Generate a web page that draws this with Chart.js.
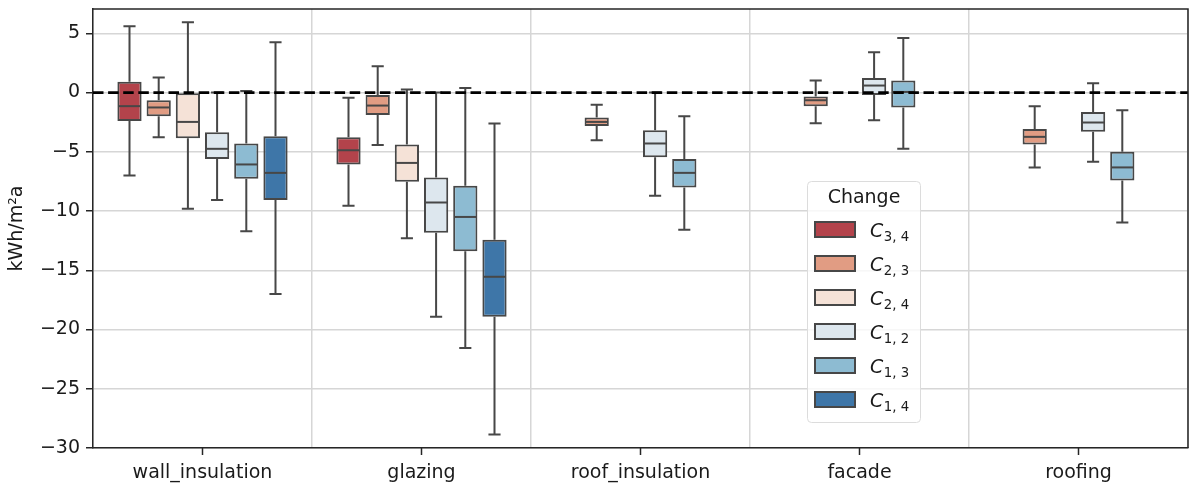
<!DOCTYPE html>
<html><head><meta charset="utf-8">
<script src="https://cdn.jsdelivr.net/npm/chart.js@4/dist/chart.umd.min.js"></script>
<style>html,body{margin:0;padding:0;background:#fff}#wrap{width:1192px;height:486px;position:relative}</style>
</head><body><div id="wrap"><canvas id="c" width="1192" height="486"></canvas></div>
<script>
// ---- data ----
const categories = ['wall_insulation', 'glazing', 'roof_insulation', 'facade', 'roofing'];
const seriesNames = ['C3,4', 'C2,3', 'C2,4', 'C1,2', 'C1,3', 'C1,4'];
const legendBase = ['C', 'C', 'C', 'C', 'C', 'C'];
const legendSub = ['3, 4', '2, 3', '2, 4', '1, 2', '1, 3', '1, 4'];
const legendTitle = 'Change';
const yAxisTitle = 'kWh/m²a';
const yTicks = [5, 0, -5, -10, -15, -20, -25, -30];
const seriesColors = ['#b3434b', '#e19c83', '#f5e2d7', '#dde7ee', '#8dbbd2', '#3e76a8'];
// five-number summaries per category: [min, q1, median, q3, max]
const C34 = [[-7.0, -2.4, -1.15, 0.9, 5.6], [-9.56, -6.07, -4.87, -3.77, -0.45], null, null, null];
const C23 = [[-3.77, -2.0, -1.26, -0.65, 1.26], [-4.42, -1.89, -1.1, -0.2, 2.22], [-4.02, -2.82, -2.48, -2.11, -1.04], [-2.59, -1.16, -0.65, -0.34, 1.01], [-6.32, -4.38, -3.74, -3.07, -1.16]];
const C24 = [[-9.8, -3.85, -2.48, 0.0, 5.93], [-12.3, -7.54, -5.94, -4.38, 0.25], null, null, null];
const C12 = [[-9.08, -5.6, -4.75, -3.35, 0.0], [-18.92, -11.84, -9.28, -7.17, 0.0], [-8.72, -5.46, -4.3, -3.18, 0.0], [-2.34, -0.2, 0.59, 1.23, 3.4], [-5.85, -3.32, -2.53, -1.64, 0.78]];
const C13 = [[-11.7, -7.28, -6.07, -4.3, 0.13], [-21.56, -13.4, -10.5, -7.87, 0.39], [-11.58, -8.01, -6.78, -5.62, -2.0], [-4.75, -1.26, 0.05, 1.01, 4.6], [-10.96, -7.42, -6.32, -5.0, -1.49]];
const C14 = [[-17.0, -9.08, -6.78, -3.68, 4.24], [-28.87, -18.92, -15.55, -12.43, -2.61], null, null, null];
const seriesStats = [C34, C23, C24, C12, C13, C14];

// ---- styling ----
const LINE = '#474747';
const FONT = 'DejaVu Sans';
const TXT = '#1a1a1a';
Chart.defaults.font.family = FONT;
Chart.defaults.font.size = 19;
Chart.defaults.color = TXT;

const datasets = seriesNames.map((name, i) => ({
  label: name,
  data: seriesStats[i].map(s => s ? [s[1], s[3]] : null),
  stats: seriesStats[i],
  backgroundColor: seriesColors[i],
  borderColor: LINE,
  borderWidth: 2,
  borderSkipped: false,
  categoryPercentage: 0.8,
  barPercentage: 0.83
}));

const boxPlugin = {
  id: 'boxPlugin',
  beforeDatasetsDraw(chart) {
    const ctx = chart.ctx, y = chart.scales.y;
    ctx.save();
    ctx.strokeStyle = LINE; ctx.lineWidth = 2; ctx.lineCap = 'butt';
    chart.data.datasets.forEach((ds, i) => {
      const meta = chart.getDatasetMeta(i);
      ds.stats.forEach((s, j) => {
        if (!s) return;
        const el = meta.data[j];
        const x = el.x, hw = el.width / 4;
        const pMin = y.getPixelForValue(s[0]), pQ1 = y.getPixelForValue(s[1]);
        const pQ3 = y.getPixelForValue(s[3]), pMax = y.getPixelForValue(s[4]);
        ctx.beginPath();
        ctx.moveTo(x, pQ1); ctx.lineTo(x, pMin);
        ctx.moveTo(x, pQ3); ctx.lineTo(x, pMax);
        ctx.moveTo(x - hw, pMin); ctx.lineTo(x + hw, pMin);
        ctx.moveTo(x - hw, pMax); ctx.lineTo(x + hw, pMax);
        ctx.stroke();
      });
    });
    ctx.restore();
  },
  afterDatasetsDraw(chart) {
    const ctx = chart.ctx, y = chart.scales.y, a = chart.chartArea;
    ctx.save();
    ctx.strokeStyle = LINE; ctx.lineWidth = 2;
    chart.data.datasets.forEach((ds, i) => {
      const meta = chart.getDatasetMeta(i);
      ds.stats.forEach((s, j) => {
        if (!s) return;
        const el = meta.data[j];
        const pm = y.getPixelForValue(s[2]);
        ctx.beginPath();
        ctx.moveTo(el.x - el.width / 2 + 1, pm); ctx.lineTo(el.x + el.width / 2 - 1, pm);
        ctx.stroke();
      });
    });
    // zero reference line
    const p0 = y.getPixelForValue(0);
    ctx.strokeStyle = '#000'; ctx.lineWidth = 2.8; ctx.setLineDash([10.5, 4.6]);
    ctx.beginPath(); ctx.moveTo(a.left, p0); ctx.lineTo(a.right, p0); ctx.stroke();
    ctx.setLineDash([]);
    ctx.restore();
  },
  afterDraw(chart) {
    const ctx = chart.ctx, a = chart.chartArea, xs = chart.scales.x;
    ctx.save();
    // top & right spines
    ctx.strokeStyle = '#262626'; ctx.lineWidth = 1.5;
    ctx.beginPath();
    ctx.moveTo(a.left, a.top); ctx.lineTo(a.right, a.top); ctx.lineTo(a.right, a.bottom);
    ctx.stroke();
    // x tick marks at category centres
    categories.forEach((c, i) => {
      const x = xs.getPixelForValue(i);
      ctx.beginPath(); ctx.moveTo(x, a.bottom); ctx.lineTo(x, a.bottom + 7); ctx.stroke();
    });
    // legend
    const L = { x: 807, y: 181, w: 113, h: 241 };
    ctx.beginPath();
    ctx.roundRect(L.x + 0.5, L.y + 0.5, L.w, L.h, 4);
    ctx.fillStyle = 'rgba(255,255,255,0.8)'; ctx.fill();
    ctx.strokeStyle = '#dcdcdc'; ctx.lineWidth = 1; ctx.stroke();
    ctx.fillStyle = TXT; ctx.textAlign = 'center'; ctx.textBaseline = 'middle';
    ctx.font = '19px ' + FONT;
    ctx.fillText(legendTitle, L.x + L.w / 2 + 0.5, 198);
    seriesNames.forEach((n, i) => {
      const top = 222 + i * 34;
      ctx.fillStyle = seriesColors[i]; ctx.strokeStyle = LINE; ctx.lineWidth = 2;
      ctx.fillRect(815, top, 40, 15); ctx.strokeRect(815, top, 40, 15);
      ctx.fillStyle = TXT; ctx.textAlign = 'left'; ctx.textBaseline = 'alphabetic';
      ctx.font = 'italic 19px ' + FONT;
      ctx.fillText(legendBase[i], 870, top + 14.5);
      const cw = ctx.measureText(legendBase[i]).width;
      ctx.font = '13.3px ' + FONT;
      ctx.fillText(legendSub[i], 870 + cw + 0.5, top + 18.5);
    });
    ctx.restore();
  }
};

new Chart(document.getElementById('c'), {
  type: 'bar',
  data: { labels: categories, datasets },
  plugins: [boxPlugin],
  options: {
    responsive: false,
    animation: false,
    layout: { padding: { top: 9, right: 4, left: 0, bottom: 0 } },
    plugins: { legend: { display: false }, tooltip: { enabled: false } },
    scales: {
      x: {
        type: 'category',
        grid: { offset: true, color: '#d6d6d6', lineWidth: 1.5, drawTicks: false },
        border: { display: true, color: '#262626', width: 1.5 },
        ticks: { padding: 14, color: TXT, font: { size: 19 }, maxRotation: 0 },
        afterFit(s) { s.height = 38; s.paddingLeft = 0; s.paddingRight = 0; }
      },
      y: {
        min: -30, max: 7.05,
        afterBuildTicks(s) { s.ticks = yTicks.map(v => ({ value: v })); },
        grid: { color: '#d6d6d6', lineWidth: 1.5, tickColor: '#262626', tickLength: 7, tickWidth: 1.5 },
        border: { display: true, color: '#262626', width: 1.5 },
        ticks: { padding: 6, color: TXT, font: { size: 19 },
          callback: v => v < 0 ? '\u2212' + Math.abs(v) : String(v) },
        title: { display: true, text: yAxisTitle, color: TXT, font: { size: 19 }, padding: { top: 6, bottom: 0 } },
        afterFit(s) { s.width = 93; s.paddingTop = 0; s.paddingBottom = 0; }
      }
    }
  }
});
</script></body></html>
